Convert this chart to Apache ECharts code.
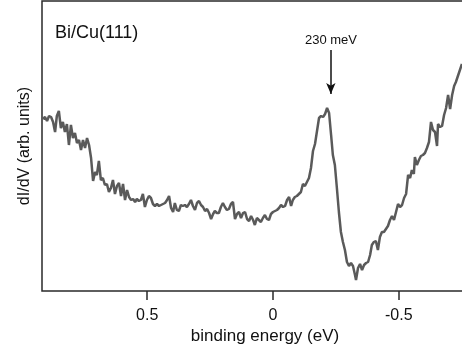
<!DOCTYPE html>
<html><head><meta charset="utf-8">
<script src="https://cdn.jsdelivr.net/npm/echarts@6/dist/echarts.min.js"></script>
<style>html,body{margin:0;padding:0;background:#fff}#c{width:462px;height:353px}</style>
</head><body><div id="c"></div>
<script>
const energy = [0.914,0.906,0.898,0.890,0.882,0.874,0.866,0.859,0.851,0.843,0.835,0.827,0.819,0.811,0.803,0.795,0.787,0.779,0.771,0.763,0.755,0.747,0.739,0.731,0.723,0.715,0.707,0.700,0.692,0.684,0.676,0.668,0.660,0.652,0.644,0.636,0.628,0.620,0.612,0.604,0.596,0.588,0.580,0.572,0.564,0.556,0.548,0.541,0.533,0.525,0.517,0.509,0.501,0.493,0.485,0.477,0.469,0.461,0.453,0.445,0.437,0.429,0.421,0.413,0.405,0.397,0.390,0.382,0.374,0.366,0.358,0.350,0.342,0.334,0.326,0.318,0.310,0.302,0.294,0.286,0.278,0.270,0.262,0.254,0.246,0.238,0.231,0.223,0.215,0.207,0.199,0.191,0.183,0.175,0.167,0.159,0.151,0.143,0.135,0.127,0.119,0.111,0.103,0.095,0.087,0.079,0.072,0.064,0.056,0.048,0.040,0.032,0.024,0.016,0.008,0.000,-0.008,-0.016,-0.024,-0.032,-0.040,-0.048,-0.056,-0.064,-0.072,-0.079,-0.087,-0.095,-0.103,-0.111,-0.119,-0.127,-0.135,-0.143,-0.151,-0.159,-0.167,-0.175,-0.183,-0.191,-0.199,-0.207,-0.215,-0.219,-0.223,-0.231,-0.238,-0.246,-0.254,-0.262,-0.270,-0.278,-0.286,-0.294,-0.302,-0.310,-0.318,-0.326,-0.330,-0.338,-0.346,-0.354,-0.362,-0.370,-0.378,-0.386,-0.393,-0.401,-0.409,-0.417,-0.425,-0.433,-0.441,-0.449,-0.457,-0.465,-0.473,-0.481,-0.489,-0.497,-0.505,-0.513,-0.521,-0.529,-0.537,-0.545,-0.552,-0.560,-0.564,-0.572,-0.580,-0.588,-0.596,-0.604,-0.612,-0.620,-0.628,-0.636,-0.644,-0.652,-0.656,-0.664,-0.672,-0.680,-0.688,-0.696,-0.704,-0.712,-0.720,-0.727,-0.735,-0.743,-0.751];
const didv = [172,174,170,175,174,169,159,175,180,163,169,159,167,146,166,153,158,148,151,141,151,143,153,146,133,110,119,116,130,111,113,106,107,99,103,111,97,105,108,95,107,91,101,94,91,92,89,92,90,91,97,84,91,95,93,87,85,87,85,86,87,88,91,95,83,79,88,81,80,86,85,86,84,87,91,85,81,88,90,86,84,80,82,78,72,77,80,78,78,84,88,84,81,82,87,89,72,77,79,73,78,79,72,70,75,71,66,73,71,69,73,76,72,71,77,79,80,81,83,86,84,85,91,94,85,91,94,95,97,99,107,105,109,113,123,140,147,160,173,175,174,177,183,185,178,156,136,126,103,79,59,49,41,29,25,28,25,16,11,23,27,21,26,28,29,36,46,49,50,41,54,59,59,62,65,71,75,71,79,87,84,86,93,97,116,113,121,117,134,126,131,135,136,138,143,149,169,161,159,145,167,164,165,176,183,196,182,196,205,209,215,221,227];
const xTicks = [0.5, 0, -0.5];
const peakEnergy = -0.23;
const peakLabel = '230 meV';
const sampleLabel = 'Bi/Cu(111)';
const xTitle = 'binding energy (eV)';
const yTitle = 'dI/dV (arb. units)';

const FONT = '"Liberation Sans", Arial, Helvetica, sans-serif';
const chart = echarts.init(document.getElementById('c'), null, {renderer: 'canvas'});
chart.setOption({
  animation: false,
  backgroundColor: '#fff',
  grid: {left: 42, top: 1, width: 430, height: 290, show: true, borderColor: '#2a2a2a', borderWidth: 1.5, backgroundColor: 'transparent', containLabel: false, outerBoundsMode: 'none'},
  xAxis: {
    type: 'value', inverse: true, min: -0.791, max: 0.918,
    axisLine: {show: false},
    axisTick: {show: true, inside: false, length: 9, lineStyle: {color: '#2a2a2a', width: 1.5}, customValues: xTicks},
    axisLabel: {show: true, margin: 17, fontFamily: FONT, fontSize: 16, color: '#111', customValues: xTicks},
    splitLine: {show: false}
  },
  yAxis: {
    type: 'value', min: 0, max: 290,
    axisLine: {show: false}, axisTick: {show: false}, axisLabel: {show: false}, splitLine: {show: false}
  },
  series: [{
    type: 'line', showSymbol: false, smooth: false,
    data: energy.map((e, i) => [e, didv[i]]),
    lineStyle: {color: '#5a5a5a', width: 2.5},
    markLine: {
      silent: true, symbol: ['none', 'arrow'], symbolSize: [7, 11],
      lineStyle: {color: '#111', width: 1.5, type: 'solid'},
      label: {show: false},
      data: [[{coord: [peakEnergy, 241]}, {coord: [peakEnergy, 197]}]]
    }
  }],
  graphic: [
    {type: 'text', left: 55, top: 24, style: {text: sampleLabel, font: '18px ' + FONT, fill: '#111'}},
    {type: 'text', x: 331, y: 40, style: {text: peakLabel, font: '13px ' + FONT, fill: '#111', align: 'center', verticalAlign: 'middle'}},
    {type: 'text', x: 265, y: 336, style: {text: xTitle, font: '17px ' + FONT, fill: '#111', align: 'center', verticalAlign: 'middle'}},
    {type: 'text', x: 25, y: 146, rotation: Math.PI / 2, style: {text: yTitle, font: '16px ' + FONT, fill: '#111', align: 'center', verticalAlign: 'middle'}}
  ]
});
</script></body></html>
